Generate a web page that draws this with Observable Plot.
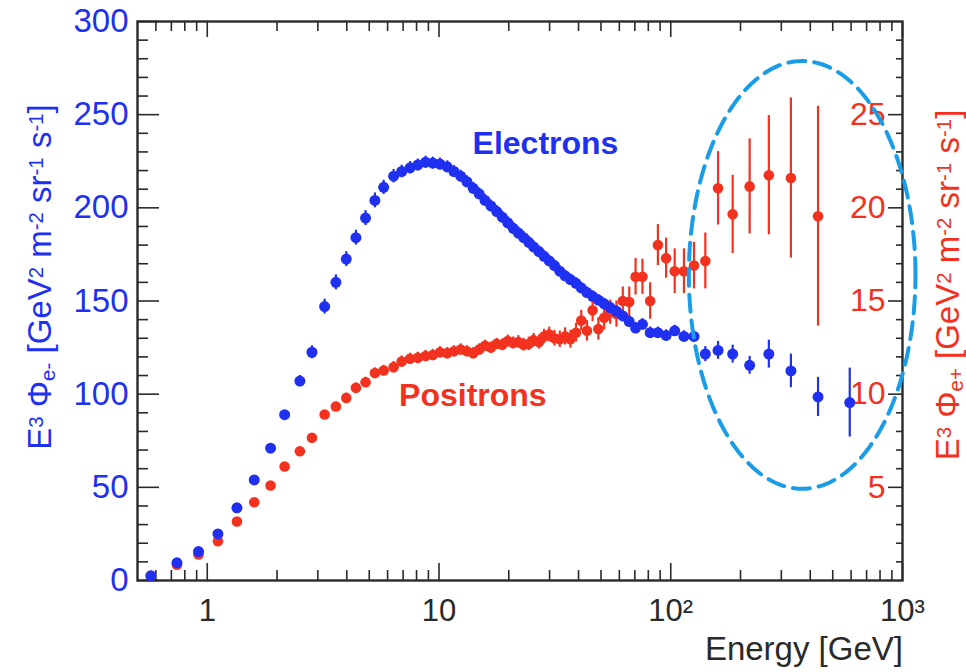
<!DOCTYPE html>
<html><head><meta charset="utf-8">
<script src="https://cdn.jsdelivr.net/npm/d3@7"></script>
<script src="https://cdn.jsdelivr.net/npm/@observablehq/plot@0.6"></script>
<style>
body{margin:0;background:#fff;}
#chart{width:966px;height:672px;}
</style>
</head><body><div id="chart"></div>
<script>
// ---- data ----
const energy = [0.571,0.74,0.917,1.112,1.343,1.595,1.876,2.157,2.51,2.83,
  3.21,3.59,3.98,4.38,4.82,5.29,5.77,6.37,6.9,7.5,
  8.1,8.75,9.4,10.1,10.85,11.6,12.4,13.2,14.05,14.9,
  15.8,16.75,17.75,18.75,19.8,20.9,22.0,23.2,24.4,25.6,
  27.0,28.4,29.9,31.5,33.2,35.0,36.9,39.0,41.1,43.5,
  46.0,48.7,51.6,54.8,58.3,62.1,66.2,70.5,75.5,81.5,
  88,95.5,104,114,126,141,160,185,219,265,
  330,432,592];
const electronFlux = [2.5,9.5,15.5,25,39,54,71,89,107,122.5,
  147,160,172.5,184,194.5,204,211,217,219.5,221.5,
  223,224.5,224,223.5,222,219.5,217,214,210.5,207.5,
  204,201,198,195,192,189,186.5,184,181.5,179,
  176.5,174,171.5,169,166,163.5,161.5,159.5,157,154.5,
  152.5,150.5,148.5,146.5,144.5,142,139,135.5,137.5,133,
  133,131.5,134,131,131,121.5,123.5,121.5,115.5,121.5,
  112.5,98.5,95.5];
const electronErr = [0.5,0.6,0.7,0.9,1.1,1.4,1.8,2.2,3,3.5,
  4,4,4,4,4,4,3.8,3.6,3.4,3.3,
  3.2,3.2,3.2,3.2,3.2,3.2,3.2,3.2,3.2,3.2,
  3.2,3.2,3.2,3.2,3.2,3.2,3.2,3.2,3.2,3.2,
  3,3,3,3,3,3,3,3,3,3,
  3,3,3,3,3,3,3,3,3,3,
  3,3,3,3,3,4,4.8,4.8,4.8,7.5,
  9,10.5,18.5];
// positron values in right-axis units
const positronFlux = [0.25,0.85,1.4,2.11,3.17,4.2,5.1,6.12,6.94,7.66,
  8.91,9.34,9.8,10.34,10.64,11.13,11.27,11.45,11.75,11.9,
  11.95,12.05,12.1,12.25,12.2,12.3,12.4,12.3,12.2,12.4,
  12.6,12.5,12.7,12.65,12.85,12.75,12.8,12.65,12.7,12.9,
  12.8,13.1,13.2,13.0,12.95,13.1,12.95,13.3,13.95,13.4,
  14.5,13.5,14.1,14.4,14.3,15.0,14.95,16.3,16.3,15.0,
  18.0,17.3,16.6,16.6,16.9,17.15,21.05,19.65,21.15,21.75,
  21.6,19.55];
const positronErr = [0.05,0.07,0.09,0.1,0.12,0.14,0.15,0.17,0.19,0.2,
  0.22,0.24,0.25,0.26,0.27,0.28,0.28,0.3,0.3,0.3,
  0.3,0.3,0.3,0.3,0.3,0.3,0.3,0.3,0.3,0.3,
  0.3,0.3,0.3,0.32,0.32,0.32,0.34,0.34,0.36,0.36,
  0.38,0.38,0.4,0.42,0.44,0.46,0.48,0.5,0.55,0.55,
  0.6,0.6,0.65,0.65,0.7,0.75,0.8,0.98,0.94,0.98,
  1.1,1.07,1.2,1.2,1.25,1.5,1.97,2.1,2.55,3.2,
  4.3,5.9];

const leftTicks = [0,50,100,150,200,250,300];
const leftMinorTicks = [10,20,30,40,60,70,80,90,110,120,130,140,160,170,180,190,210,220,230,240,260,270,280,290];
const rightTicks = [5,10,15,20,25];
const rightMinorTicks = [1,2,3,4,6,7,8,9,11,12,13,14,16,17,18,19,21,22,23,24,26,27,28,29];
const xMajorTicks = [1,10,100,1000];
const xTickLabels = ["1","10","10²","10³"];
const xMinorTicks = [0.6,0.7,0.8,0.9,2,3,4,5,6,7,8,9,20,30,40,50,60,70,80,90,200,300,400,500,600,700,800,900];
const RIGHT_SCALE = 10; // right axis value * 10 = left axis value

const seriesLabels = ["Electrons","Positrons"];
const seriesLabelE = [28.8, 14.0];
const seriesLabelV = [234.6, 99.3];

// dashed ellipse annotation (centre in data units, half-width in decades, half-height in left units)
const ellipseCenterE = 369, ellipseCenterV = 164, ellipseHalfDecades = 0.489, ellipseHalfV = 114.8;

const BLUE = "#2030f0", RED = "#f2321f", CYAN = "#1b9ce6", INK = "#2a2a2a";
const FONT = "'Liberation Sans', Arial, Helvetica, sans-serif";

const electrons = energy.map((E, i) => ({E, v: electronFlux[i], e: electronErr[i]}));
const positrons = positronFlux.map((r, i) => ({E: energy[i], v: r * RIGHT_SCALE, e: positronErr[i] * RIGHT_SCALE}));
const ellipse = d3.range(0, 181).map(k => {
  const t = k / 180 * 2 * Math.PI;
  return {E: ellipseCenterE * Math.pow(10, ellipseHalfDecades * Math.cos(t)), v: ellipseCenterV + ellipseHalfV * Math.sin(t)};
});

const plot = Plot.plot({
  width: 966, height: 672,
  marginLeft: 137, marginRight: 64, marginTop: 21, marginBottom: 92,
  style: {fontFamily: FONT, background: "#fff", overflow: "visible"},
  x: {type: "log", domain: [0.5, 1000]},
  y: {domain: [0, 300]},
  marks: [
    // left axis
    Plot.axisY(leftTicks, {anchor: "left", tickSize: -22, tickPadding: 31, stroke: INK, strokeWidth: 1.6, fill: BLUE, fontSize: 33, label: null}),
    Plot.axisY(leftMinorTicks, {anchor: "left", tickSize: -11, stroke: INK, strokeWidth: 1.6, tickFormat: () => "", label: null}),
    // right axis (positron scale)
    Plot.axisY(rightTicks.map(r => r * RIGHT_SCALE), {anchor: "right", tickSize: -15, tickPadding: -2, textAnchor: "end", stroke: INK, strokeWidth: 1.6, fill: RED, fontSize: 32, tickFormat: d => String(d / RIGHT_SCALE), label: null}),
    Plot.axisY(rightMinorTicks.map(r => r * RIGHT_SCALE), {anchor: "right", tickSize: -7, stroke: INK, strokeWidth: 1.6, tickFormat: () => "", label: null}),
    // bottom axis
    Plot.axisX(xMajorTicks, {anchor: "bottom", tickSize: -17, tickPadding: 35, stroke: INK, strokeWidth: 1.6, fill: INK, fontSize: 31, tickFormat: d => xTickLabels[xMajorTicks.indexOf(d)], label: null}),
    Plot.axisX(xMinorTicks, {anchor: "bottom", tickSize: -10, stroke: INK, strokeWidth: 1.6, tickFormat: () => "", label: null}),
    // top axis
    Plot.axisX(xMajorTicks, {anchor: "top", tickSize: -15, stroke: INK, strokeWidth: 1.6, tickFormat: () => "", label: null}),
    Plot.axisX(xMinorTicks, {anchor: "top", tickSize: -9, stroke: INK, strokeWidth: 1.6, tickFormat: () => "", label: null}),
    Plot.frame({stroke: INK, strokeWidth: 2.4}),
    // positrons
    Plot.ruleX(positrons, {x: "E", y1: d => d.v - d.e, y2: d => d.v + d.e, stroke: RED, strokeWidth: 2.2}),
    Plot.dot(positrons, {x: "E", y: "v", r: 5.3, fill: RED}),
    // electrons
    Plot.ruleX(electrons, {x: "E", y1: d => d.v - d.e, y2: d => d.v + d.e, stroke: BLUE, strokeWidth: 2.2}),
    Plot.dot(electrons, {x: "E", y: "v", r: 5.5, fill: BLUE}),
    // labels
    Plot.text(seriesLabels, {x: (d, i) => seriesLabelE[i], y: (d, i) => seriesLabelV[i], text: d => d, fill: (d, i) => i === 0 ? BLUE : RED, fontSize: 32, fontWeight: "bold"}),
    // ellipse
    Plot.line(ellipse, {x: "E", y: "v", stroke: CYAN, strokeWidth: 4, strokeDasharray: "17,9", curve: "linear"})
  ]
});
document.getElementById("chart").appendChild(plot);

// axis titles with super/subscripts
const svg = d3.select(plot);
function title(parts, x, y, color, size, rotate) {
  const t = svg.append("text")
    .attr("transform", `translate(${x},${y})` + (rotate ? ` rotate(${rotate})` : ""))
    .attr("text-anchor", rotate ? "middle" : "end")
    .attr("fill", color).attr("font-size", size).attr("font-family", FONT);
  for (const [s, kind] of parts) {
    const ts = t.append("tspan").text(s);
    if (kind === "sup") ts.attr("baseline-shift", "42%").attr("font-size", size * 0.62);
    if (kind === "sub") ts.attr("baseline-shift", "-22%").attr("font-size", size * 0.62);
  }
}
const unitParts = (sub) => [["E"],["3","sup"],[" Φ"],[sub,"sub"],[" [GeV"],["2","sup"],[" m"],["-2","sup"],[" sr"],["-1","sup"],[" s"],["-1","sup"],["]"]];
title(unitParts("e-"), 51, 277, BLUE, 33, -90);
title(unitParts("e+"), 959, 285, RED, 33, -90);
title([["Energy [GeV]"]], 903, 660, INK, 33, 0);
</script>
</body></html>
